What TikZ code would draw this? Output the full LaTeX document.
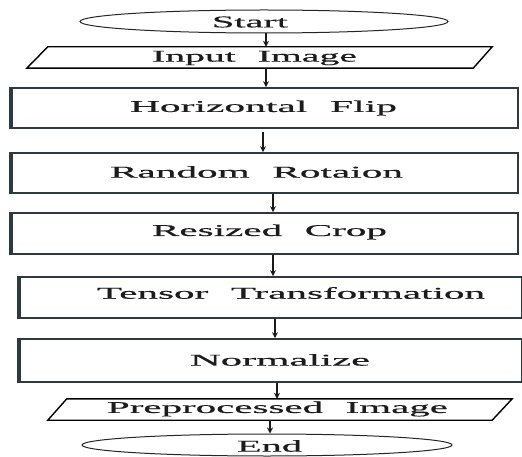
\documentclass[tikz,border=0pt]{standalone}
\usepackage{fontspec}
\setmainfont{Liberation Serif}[WordSpace=2.2, FakeBold=0.4]
\usetikzlibrary{calc,arrows.meta,shapes.geometric}
\definecolor{edgec}{HTML}{2E3A42}
\definecolor{txtc}{HTML}{1C1C1C}
\newcommand\lbl[2]{\resizebox{#1pt}{\height}{\fontsize{16.5}{18}\selectfont\color{txtc}#2}}
\begin{document}
\begin{tikzpicture}[x=1pt,y=-1pt,
  term/.style={ellipse, draw=black!85, line width=1pt, inner sep=0pt},
  frame/.style={rectangle, draw=none, inner sep=0pt},
  procbox/.style={rectangle, draw=edgec, line width=1.7pt, inner sep=0pt},
  ioline/.style={draw=black, line width=1.4pt, line join=miter},
  thickleft/.style={draw=edgec, line width=3.4pt},
  arr/.style={draw=black!90, line width=1.1pt, -{Stealth[length=6pt,width=6pt]}},
  txt/.style={inner sep=0pt}]
\useasboundingbox (0,0) rectangle (522,457);

% shapes
\node[term, minimum width=368pt, minimum height=23pt] (start) at (264,21.5) {};
\node[frame, minimum width=465pt, minimum height=21pt] (in) at (259.5,57.5) {};
\node[procbox, minimum width=506pt, minimum height=40pt] (hf) at (265,108) {};
\node[procbox, minimum width=506pt, minimum height=40pt] (rr) at (265,173) {};
\node[procbox, minimum width=506pt, minimum height=41pt] (rc) at (265,233.5) {};
\node[procbox, minimum width=501.5pt, minimum height=41pt] (tt) at (270.75,297.5) {};
\node[procbox, minimum width=501.5pt, minimum height=43pt] (nz) at (270.75,360.5) {};
\node[frame, minimum width=464pt, minimum height=21pt] (pi) at (280,409.5) {};
\node[term, minimum width=370pt, minimum height=22pt] (end) at (267,445) {};

% parallelogram outlines
\draw[ioline] ($(in.north west)+(21,0)$) -- (in.north east) -- ($(in.south east)+(-19,0)$) -- (in.south west) -- cycle;
\draw[ioline] ($(pi.north west)+(19,0)$) -- (pi.north east) -- ($(pi.south east)+(-20,0)$) -- (pi.south west) -- cycle;

% thick left edges
\foreach \n in {hf,rr,rc,tt,nz}{
  \draw[thickleft] (\n.north west) -- (\n.south west);
}

% texts
\node[txt] (tstart) at (250,22) {\lbl{76}{Start}};
\node[txt] (tin) at (254.5,58) {\lbl{205}{Input Image}};
\node[txt] (thf) at (263.5,108) {\lbl{267}{Horizontal Flip}};
\node[txt] (trr) at (256.5,172) {\lbl{293}{Random Rotaion}};
\node[txt] (trc) at (269.5,232) {\lbl{235}{Resized Crop}};
\node[txt] (ttt) at (291,293) {\lbl{388}{Tensor Transformation}};
\node[txt] (tnz) at (280,360) {\lbl{180}{Normalize}};
\node[txt] (tpi) at (277.5,409) {\lbl{341}{Preprocessed Image}};
\node[txt] (tend) at (269.5,446) {\lbl{65}{End}};

% arrow columns
\coordinate (a1) at (266,0);
\coordinate (a2) at (266,0);
\coordinate (a3) at (263,0);
\coordinate (a4) at (273,0);
\coordinate (a5) at (273,0);
\coordinate (a6) at (275,0);
\coordinate (a7) at (277,0);
\coordinate (a8) at (270,0);

\draw[arr] (start.south -| a1) -- (in.north -| a1);
\draw[arr] (in.south -| a2) -- (hf.north -| a2);
\draw[arr] ($(hf.south -| a3)+(0,3)$) -- (rr.north -| a3);
\draw[arr] (rr.south -| a4) -- (rc.north -| a4);
\draw[arr] (rc.south -| a5) -- (tt.north -| a5);
\draw[arr] (tt.south -| a6) -- (nz.north -| a6);
\draw[arr] (nz.south -| a7) -- (pi.north -| a7);
\draw[arr] (pi.south -| a8) -- (end.north -| a8);
\end{tikzpicture}
\end{document}
